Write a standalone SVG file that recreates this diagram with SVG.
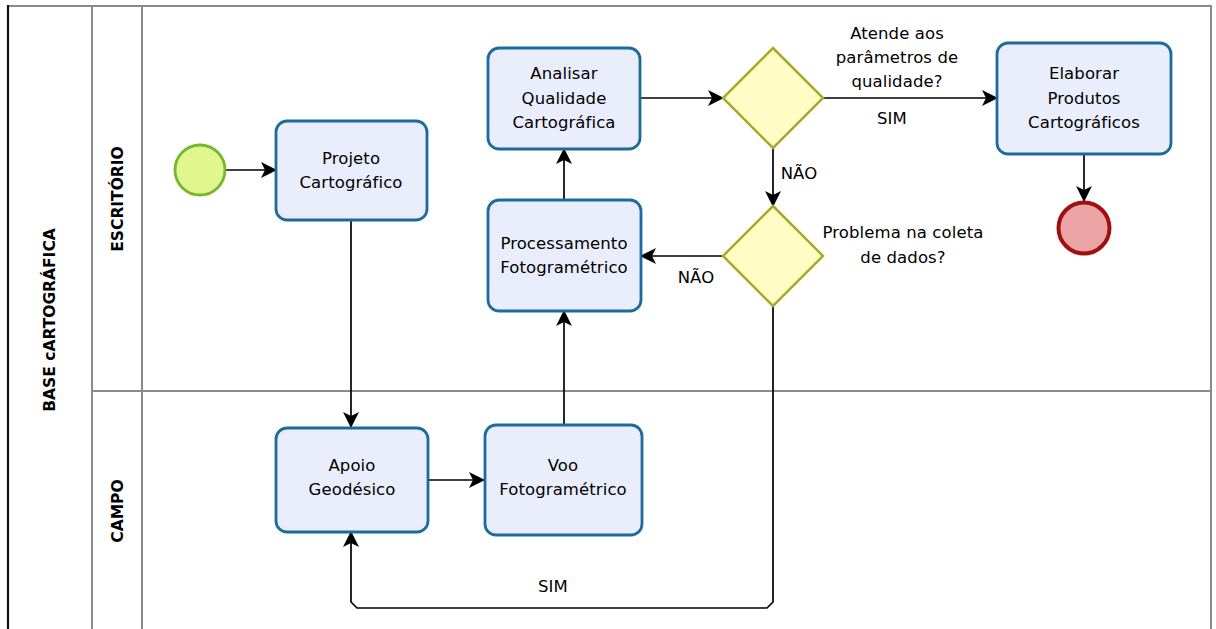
<svg xmlns="http://www.w3.org/2000/svg" width="1216" height="629" viewBox="0 0 1216 629">
  <style>
    .lbl { font-family: "DejaVu Sans", Verdana, sans-serif; font-size: 16.5px; letter-spacing: 0.1px; fill: #000; text-anchor: middle; }
    .lane { font-family: "DejaVu Sans", Verdana, sans-serif; font-size: 15.5px; font-weight: bold; fill: #000; text-anchor: middle; }
    .task { fill: #e9edfc; stroke: #1b6c9c; stroke-width: 2.8; }
    .gate { fill: #fefdc6; stroke: #a9a92c; stroke-width: 2.5; }
    .arrow { fill: none; stroke: #000; stroke-width: 1.7; marker-end: url(#head); }
    .sep { stroke: #8a8a8a; stroke-width: 2; fill: none; }
  </style>
  <defs>
    <marker id="head" viewBox="0 0 16 18" refX="15" refY="9" markerWidth="16" markerHeight="18" markerUnits="userSpaceOnUse" orient="auto">
      <path d="M0,1 L16,9 L0,17 L4,9 z" fill="#000"/>
    </marker>
  </defs>

  <rect width="1216" height="629" fill="#fff"/>

  <!-- pool and lanes -->
  <g id="pool">
    <rect x="8" y="6" width="1203" height="640" fill="none" stroke="#8a8a8a" stroke-width="2"/>
    <line x1="8" y1="5" x2="8" y2="629" stroke="#111" stroke-width="2.2"/>
    <line class="sep" x1="92" y1="6" x2="92" y2="629"/>
    <line class="sep" x1="142" y1="6" x2="142" y2="629"/>
    <line class="sep" x1="92" y1="391" x2="1211" y2="391"/>
    <text class="lane" transform="translate(55,320) rotate(-90)">BASE cARTOGRÁFICA</text>
    <text class="lane" transform="translate(123,199) rotate(-90)">ESCRITÓRIO</text>
    <text class="lane" transform="translate(123,511) rotate(-90)">CAMPO</text>
  </g>

  <!-- sequence flows -->
  <g id="connectors">
    <line class="arrow" x1="225" y1="170" x2="276" y2="170"/>
    <line class="arrow" x1="351" y1="221" x2="351" y2="427"/>
    <line class="arrow" x1="428" y1="480" x2="484" y2="480"/>
    <line class="arrow" x1="564" y1="425" x2="564" y2="311"/>
    <line class="arrow" x1="564" y1="200" x2="564" y2="149"/>
    <line class="arrow" x1="640" y1="98" x2="723" y2="98"/>
    <line class="arrow" x1="823" y1="98" x2="997" y2="98"/>
    <line class="arrow" x1="773" y1="148" x2="773" y2="206"/>
    <line class="arrow" x1="723" y1="256" x2="641" y2="256"/>
    <line class="arrow" x1="1084" y1="154" x2="1084" y2="201"/>
    <path class="arrow" d="M773,306 L773,602 L767,608 L357,608 L351,602 L351,532"/>
    <text class="lbl" x="892" y="124">SIM</text>
    <text class="lbl" x="799" y="179">NÃO</text>
    <text class="lbl" x="696" y="283">NÃO</text>
    <text class="lbl" x="553" y="592">SIM</text>
  </g>

  <g id="start">
    <circle cx="200" cy="170" r="25" fill="#e1f78d" stroke="#76b82a" stroke-width="2.8"/>
  </g>

  <g id="projeto">
    <rect class="task" x="276" y="121" width="151" height="99" rx="11"/>
    <text class="lbl" x="351" y="164">Projeto</text>
    <text class="lbl" x="351" y="188">Cartográfico</text>
  </g>

  <g id="analisar">
    <rect class="task" x="488" y="48" width="152" height="101" rx="11"/>
    <text class="lbl" x="564" y="79">Analisar</text>
    <text class="lbl" x="564" y="104">Qualidade</text>
    <text class="lbl" x="564" y="128">Cartográfica</text>
  </g>

  <g id="processamento">
    <rect class="task" x="488" y="200" width="153" height="111" rx="11"/>
    <text class="lbl" x="564" y="249">Processamento</text>
    <text class="lbl" x="564" y="273">Fotogramétrico</text>
  </g>

  <g id="apoio">
    <rect class="task" x="276" y="428" width="152" height="104" rx="11"/>
    <text class="lbl" x="352" y="471">Apoio</text>
    <text class="lbl" x="352" y="495">Geodésico</text>
  </g>

  <g id="voo">
    <rect class="task" x="485" y="425" width="157" height="110" rx="11"/>
    <text class="lbl" x="563" y="471">Voo</text>
    <text class="lbl" x="563" y="495">Fotogramétrico</text>
  </g>

  <g id="gateway-qualidade">
    <polygon class="gate" points="773,48 823,98 773,148 723,98"/>
    <text class="lbl" x="897" y="39">Atende aos</text>
    <text class="lbl" x="897" y="63">parâmetros de</text>
    <text class="lbl" x="897" y="87">qualidade?</text>
  </g>

  <g id="gateway-coleta">
    <polygon class="gate" points="773,206 823,256 773,306 723,256"/>
    <text class="lbl" x="903" y="238">Problema na coleta</text>
    <text class="lbl" x="903" y="263">de dados?</text>
  </g>

  <g id="elaborar">
    <rect class="task" x="997" y="43" width="174" height="111" rx="11"/>
    <text class="lbl" x="1084" y="79">Elaborar</text>
    <text class="lbl" x="1084" y="104">Produtos</text>
    <text class="lbl" x="1084" y="128">Cartográficos</text>
  </g>

  <g id="end">
    <circle cx="1084" cy="228" r="25.5" fill="#eba4a4" stroke="#a01010" stroke-width="4"/>
  </g>
</svg>
